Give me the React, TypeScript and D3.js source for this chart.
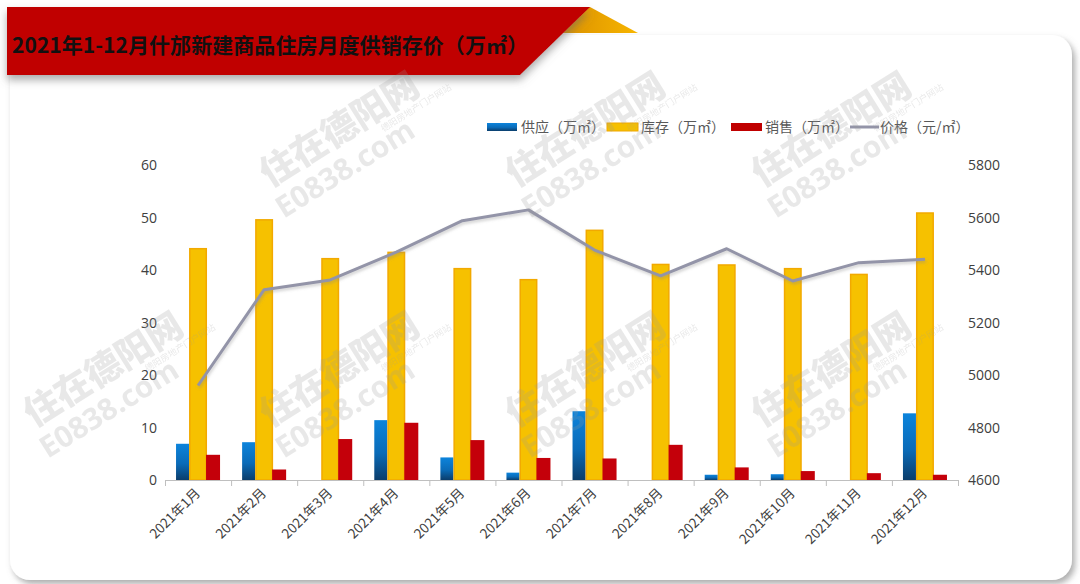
import React from 'react';
import * as d3 from 'd3';

const months = ['2021年1月', '2021年2月', '2021年3月', '2021年4月', '2021年5月', '2021年6月', '2021年7月', '2021年8月', '2021年9月', '2021年10月', '2021年11月', '2021年12月'];
const supply = [6.9, 7.2, 0, 11.4, 4.3, 1.4, 13.1, 0, 1.0, 1.1, 0, 12.7];
const stock = [44.2, 49.7, 42.3, 43.5, 40.4, 38.3, 47.7, 41.2, 41.1, 40.4, 39.3, 51.0];
const sales = [4.8, 2.0, 7.8, 10.9, 7.6, 4.2, 4.1, 6.7, 2.4, 1.7, 1.3, 1.0];
const price = [4960, 5325, 5362, 5468, 5588, 5629, 5476, 5378, 5481, 5358, 5428, 5441];
const leftTicks = [0, 10, 20, 30, 40, 50, 60];
const rightTicks = [4600, 4800, 5000, 5200, 5400, 5600, 5800];
const title = '2021年1-12月什邡新建商品住房月度供销存价（万㎡）';
const legendItems = ['供应（万㎡）', '库存（万㎡）', '销售（万㎡）', '价格（元/㎡）'];

const W = 1080;
const H = 584;
const CJK = '"Noto Sans CJK SC", "Noto Sans", sans-serif';
const NUM = '"Open Sans", "Noto Sans", sans-serif';

const wmSpots = [
  [346, 140],
  [592, 140],
  [838, 140],
  [346, 380],
  [592, 380],
  [838, 380],
  [110, 380],
];

function Watermark({ cx, cy }: { cx: number; cy: number }) {
  return (
    <g transform={`translate(${cx},${cy}) rotate(-32)`} fill="#9a9a9a" opacity={0.22} style={{ pointerEvents: 'none' }}>
      <text x={0} y={0} textAnchor="middle" fontSize={36} fontWeight={900} fontFamily={CJK}>住在德阳网</text>
      <text x={-16} y={34} textAnchor="middle" fontSize={30} fontWeight={700} fontFamily={NUM}>E0838.com</text>
      <text x={36} y={13} fontSize={9} fontFamily={CJK}>德阳房地产门户网站</text>
    </g>
  );
}

export default function App() {
  const x = d3.scaleBand<string>().domain(months).range([165, 958]).padding(0);
  const y = d3.scaleLinear().domain([0, 60]).range([480, 165]);
  const y2 = d3.scaleLinear().domain([4600, 5800]).range([480, 165]);
  const bw = x.bandwidth();

  const line = d3
    .line<number>()
    .x((_, i) => (x(months[i]) as number) + bw / 2)
    .y((d) => y2(d));

  const legendY = 127;

  return (
    <svg width={W} height={H} style={{ position: 'fixed', left: 0, top: 0, background: '#fff' }}>
      <defs>
        <filter id="cardShadow" x="-5%" y="-5%" width="110%" height="112%">
          <feDropShadow dx="3" dy="4" stdDeviation="3" floodColor="#777" floodOpacity="0.6" />
        </filter>
        <filter id="bannerShadow" x="-5%" y="-20%" width="110%" height="160%">
          <feDropShadow dx="0" dy="5" stdDeviation="4" floodColor="#666" floodOpacity="0.55" />
        </filter>
        <filter id="lineShadow" x="-5%" y="-20%" width="110%" height="140%">
          <feDropShadow dx="1" dy="2" stdDeviation="1.5" floodColor="#888" floodOpacity="0.4" />
        </filter>
        <linearGradient id="blueGrad" x1="0" y1="0" x2="0" y2="1">
          <stop offset="0%" stopColor="#0c84dc" />
          <stop offset="55%" stopColor="#0a6bb8" />
          <stop offset="100%" stopColor="#0b3d6b" />
        </linearGradient>
        <linearGradient id="yellowTri" x1="0" y1="0" x2="1" y2="0">
          <stop offset="0%" stopColor="#d68a00" />
          <stop offset="100%" stopColor="#f7b500" />
        </linearGradient>
      </defs>

      {/* card */}
      <rect x={10} y={35} width={1062} height={545} rx={20} ry={20} fill="#fff" filter="url(#cardShadow)" />

      {/* banner */}
      <polygon points="560,7 590,7 638,33 548,33" fill="url(#yellowTri)" />
      <polygon points="7,7 590,7 520,75 7,75" fill="#c00000" filter="url(#bannerShadow)" />
      <text x={12} y={53} fontFamily={CJK} fontWeight={700} fontSize={21} textLength={516} lengthAdjust="spacing" fill="#111">{title}</text>

      {/* legend */}
      <g fontFamily={CJK} fontSize={14} fill="#595959">
        <rect x={487} y={legendY - 4} width={30} height={8} fill="url(#blueGrad)" />
        <text x={521} y={legendY + 5}>{legendItems[0]}</text>
        <rect x={607} y={legendY - 4} width={31} height={8} fill="#f5c000" stroke="#f0a800" />
        <text x={641} y={legendY + 5}>{legendItems[1]}</text>
        <rect x={731} y={legendY - 4} width={31} height={8} fill="#c00000" />
        <text x={765} y={legendY + 5}>{legendItems[2]}</text>
        <line x1={850} x2={879} y1={legendY} y2={legendY} stroke="#9394a8" strokeWidth={3} />
        <text x={880} y={legendY + 5}>{legendItems[3]}</text>
      </g>

      {/* left axis labels */}
      <g fontFamily={NUM} fontSize={14} fill="#404040" textAnchor="end">
        {leftTicks.map((t) => (
          <text key={t} x={157} y={y(t) + 5}>{t}</text>
        ))}
      </g>
      {/* right axis labels */}
      <g fontFamily={NUM} fontSize={14} fill="#404040" textAnchor="start">
        {rightTicks.map((t) => (
          <text key={t} x={968} y={y2(t) + 5}>{t}</text>
        ))}
      </g>

      {/* bars */}
      <g>
        {months.map((m, i) => {
          const x0 = x(m) as number;
          return (
            <g key={m}>
              {supply[i] > 0 && (
                <rect x={x0 + bw * 0.167} y={y(supply[i])} width={bw * 0.197} height={y(0) - y(supply[i])} fill="url(#blueGrad)" />
              )}
              <rect
                x={x0 + bw * 0.364 + 0.75}
                y={y(stock[i]) + 0.75}
                width={bw * 0.272 - 1.5}
                height={y(0) - y(stock[i]) - 0.75}
                fill="#f6c100"
                stroke="#f2a900"
                strokeWidth={1.5}
              />
              <rect x={x0 + bw * 0.621} y={y(sales[i])} width={bw * 0.212} height={y(0) - y(sales[i])} fill="#c4000a" />
            </g>
          );
        })}
      </g>

      {/* x axis */}
      <line x1={165} x2={958} y1={480.5} y2={480.5} stroke="#bfbfbf" strokeWidth={1} />
      {months.map((m) => (
        <line key={m} x1={(x(m) as number) + 0.5} x2={(x(m) as number) + 0.5} y1={480} y2={486} stroke="#bfbfbf" />
      ))}
      <line x1={958.5} x2={958.5} y1={480} y2={486} stroke="#bfbfbf" />
      <g fontFamily={CJK} fontSize={13.5} fill="#404040" textAnchor="end">
        {months.map((m) => {
          const cx = (x(m) as number) + bw / 2 + 3;
          const cy = 494;
          return (
            <text key={m} x={cx} y={cy} transform={`rotate(-45 ${cx} ${cy})`}>{m}</text>
          );
        })}
      </g>

      {/* price line */}
      <path d={line(price) || ''} fill="none" stroke="#9394a8" strokeWidth={3} strokeLinejoin="round" filter="url(#lineShadow)" />

      {/* watermarks */}
      {wmSpots.map(([wx, wy]) => <Watermark key={`${wx}-${wy}`} cx={wx} cy={wy} />)}
    </svg>
  );
}
